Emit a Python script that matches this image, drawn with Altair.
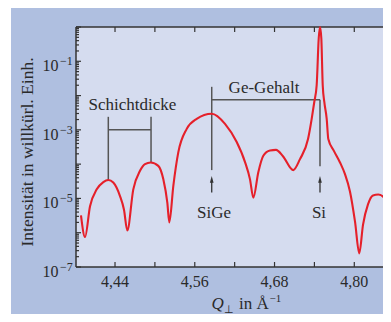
import altair as alt
import pandas as pd

# ---------------- data ----------------
q_vals = [4.3888, 4.3949, 4.4024, 4.4125, 4.4224, 4.4299, 4.4374, 4.4475, 4.4535, 4.4585,
          4.4675, 4.4776, 4.4851, 4.4937, 4.5051, 4.5127, 4.5187, 4.5217, 4.5277, 4.5352,
          4.5479, 4.5629, 4.5855, 4.6055, 4.6231, 4.6356, 4.6431, 4.6481, 4.6556, 4.6631,
          4.6732, 4.6822, 4.6927, 4.7082, 4.7183, 4.7304, 4.7359, 4.7398, 4.7434, 4.7465,
          4.7484, 4.7504, 4.7525, 4.7549, 4.7585, 4.7609, 4.7695, 4.7785, 4.7860, 4.7935,
          4.8011, 4.8075, 4.8131, 4.8206, 4.8281, 4.8361, 4.8447, 4.8552]
intensity = [3.2e-6, 7.5e-7, 5.9e-6, 1.84e-5, 3.0e-5, 3.45e-5, 2.9e-5, 1.17e-5, 4.7e-6, 1.17e-6,
             1.84e-5, 6.4e-5, 1.0e-4, 1.12e-4, 8.9e-5, 3.6e-5, 7.5e-6, 2.0e-6, 2.3e-5, 2.2e-4,
             1.07e-3, 2.1e-3, 2.96e-3, 1.5e-3, 4.4e-4, 1.15e-4, 3.6e-5, 1.05e-5, 5.8e-5, 1.75e-4,
             2.5e-4, 2.6e-4, 1.7e-4, 6.7e-5, 1.4e-4, 5.4e-4, 2.1e-3, 6.5e-3, 2.0e-2, 0.47,
             1.0, 0.47, 2.0e-2, 6.5e-3, 2.1e-3, 5.4e-4, 2.4e-4, 1.12e-4, 5.1e-5, 1.6e-5,
             2.1e-6, 2.5e-7, 1.7e-6, 6.7e-6, 1.22e-5, 1.3e-5, 1.07e-5, 4.8e-6]

x_tick_values = [4.44, 4.50, 4.56, 4.62, 4.68, 4.74, 4.80]
x_label_values = [4.44, 4.56, 4.68, 4.80]
x_label_texts = ["4,44", "4,56", "4,68", "4,80"]
decades = [1e-7, 1e-6, 1e-5, 1e-4, 1e-3, 1e-2, 1e-1, 1e0]
minor_ticks = [m * d for d in decades[:-1] for m in range(2, 10)]
y_label_values = [1e-1, 1e-3, 1e-5, 1e-7]
y_label_exps = ["\u22121", "\u22123", "\u22125", "\u22127"]

# annotations (data coordinates)
vlines = pd.DataFrame({
    "q":  [4.4299, 4.4942, 4.5855, 4.7484],
    "I":  [2.4e-3, 2.4e-3, 1.8e-2, 7.6e-3],
    "I2": [3.45e-5, 1.12e-4, 6.7e-5, 8.7e-5],
})
hlines = pd.DataFrame({"q": [4.4299, 4.5855], "q2": [4.4942, 4.7484], "I": [1.0e-3, 7.6e-3]})
arrows = pd.DataFrame({"q": [4.5855, 4.7484], "I": [1.5e-5, 1.5e-5], "I2": [3.3e-5, 3.3e-5],
                       "tip": [3.6e-5, 3.6e-5]})
notes = pd.DataFrame({
    "q": [4.4663, 4.6642, 4.5891, 4.7469],
    "I": [3.7e-3, 1.15e-2, 2.76e-6, 2.76e-6],
    "t": ["Schichtdicke", "Ge-Gehalt", "SiGe", "Si"],
})

# ---------------- chart ----------------
W, H = 307, 240
FONT = "Liberation Serif"
TXT = "#2a2a2a"
GRAY = "#555555"
FRAME = "#333333"

xs = alt.Scale(domain=[4.3813, 4.8432], nice=False, zero=False)
ys = alt.Scale(type="log", domain=[1e-7, 1], nice=False)


def X(f="q"):
    return alt.X(f"{f}:Q", scale=xs, axis=None)


def Y(f="I"):
    return alt.Y(f"{f}:Q", scale=ys, axis=None)


one = alt.Data(values=[{"a": 1}])

panel = alt.Chart(one).mark_rect(color="#afbfe0").encode(
    x=alt.value(-65), x2=alt.value(W + 20), y=alt.value(-19), y2=alt.value(H + 70))
plotbg = alt.Chart(one).mark_rect(color="#d5dcef").encode(
    x=alt.value(0), x2=alt.value(W + 20), y=alt.value(0), y2=alt.value(H))


def prule(x, x2, y, y2):
    return alt.Chart(one).mark_rule(color=FRAME, strokeWidth=1.5).encode(
        x=alt.value(x), x2=alt.value(x2), y=alt.value(y), y2=alt.value(y2))


frame = [prule(0, W + 20, 0, 0), prule(0, 0, 0, H), prule(0, W + 20, H, H)]

dec_df = pd.DataFrame({"I": decades})
min_df = pd.DataFrame({"I": minor_ticks})
xt_df = pd.DataFrame({"q": x_tick_values})

tick_style = dict(color=FRAME, strokeWidth=1.2)
left_major = alt.Chart(dec_df).mark_rule(**tick_style).encode(y=Y(), x=alt.value(0), x2=alt.value(5))
left_minor = alt.Chart(min_df).mark_rule(**tick_style).encode(y=Y(), x=alt.value(0), x2=alt.value(3))
bottom_ticks = alt.Chart(xt_df).mark_rule(**tick_style).encode(x=X(), y=alt.value(H - 5), y2=alt.value(H))
top_ticks = alt.Chart(xt_df).mark_rule(**tick_style).encode(x=X(), y=alt.value(0), y2=alt.value(5))

curve_df = pd.DataFrame({"q": q_vals, "I": intensity})
curve = alt.Chart(curve_df).mark_line(color="#e5202a", strokeWidth=2.1, interpolate="monotone").encode(
    x=X(), y=Y())

vrules = alt.Chart(vlines).mark_rule(color=GRAY, strokeWidth=1.5).encode(
    x=X(), y=Y(), y2=alt.Y2("I2:Q"))
hrules = alt.Chart(hlines).mark_rule(color=GRAY, strokeWidth=1.5).encode(
    x=X(), x2=alt.X2("q2:Q"), y=Y())
arrow_shafts = alt.Chart(arrows).mark_rule(color="#333333", strokeWidth=1.3).encode(
    x=X(), y=Y(), y2=alt.Y2("I2:Q"))
arrow_heads = alt.Chart(arrows).mark_point(
    shape="M0,-1L0.55,1L-0.55,1Z", filled=True, color="#333333", size=45, opacity=1).encode(
    x=X(), y=Y("tip"))

note_text = alt.Chart(notes).mark_text(font=FONT, fontSize=17, color=TXT, align="center",
                                       baseline="alphabetic").encode(x=X(), y=Y(), text="t:N")

# x tick labels
xl_df = pd.DataFrame({"q": x_label_values, "t": x_label_texts})
x_labels = alt.Chart(xl_df).mark_text(font=FONT, fontSize=16, color=TXT, align="center",
                                      baseline="alphabetic").encode(
    x=X(), y=alt.value(H + 20), text="t:N")

# y tick labels: "10" + superscript exponent
yl_df = pd.DataFrame({"I": y_label_values, "e": y_label_exps, "b": ["10"] * 4})
y_base = alt.Chart(yl_df).mark_text(font=FONT, fontSize=16, color=TXT, align="right",
                                    baseline="middle", dy=5).encode(
    x=alt.value(-17.5), y=Y(), text="b:N")
y_exp = alt.Chart(yl_df).mark_text(font=FONT, fontSize=12, color=TXT, align="left",
                                   baseline="middle", dy=0).encode(
    x=alt.value(-16), y=Y(), text="e:N")

# axis titles
y_title = alt.Chart(one).mark_text(font=FONT, fontSize=17.5, color=TXT, align="center",
                                   baseline="alphabetic", angle=270,
                                   text="Intensität in willkürl. Einh.").encode(
    x=alt.value(-43), y=alt.value(125))
xt_q = alt.Chart(one).mark_text(font=FONT, fontSize=17, fontStyle="italic", color=TXT,
                                align="left", baseline="alphabetic", text="Q").encode(
    x=alt.value(135.5), y=alt.value(282))
xt_perp = alt.Chart(one).mark_text(font=FONT, fontSize=11, color=TXT, align="left",
                                   baseline="alphabetic", text="\u22a5").encode(
    x=alt.value(147.5), y=alt.value(285.5))
xt_in = alt.Chart(one).mark_text(font=FONT, fontSize=17, color=TXT, align="left",
                                 baseline="alphabetic", text="in Å").encode(
    x=alt.value(163), y=alt.value(282))
xt_exp = alt.Chart(one).mark_text(font=FONT, fontSize=11, color=TXT, align="left",
                                  baseline="alphabetic", text="\u22121").encode(
    x=alt.value(193.5), y=alt.value(275))

chart = alt.layer(
    panel, plotbg, *frame, left_major, left_minor, bottom_ticks, top_ticks,
    vrules, hrules, arrow_shafts, arrow_heads, curve, note_text,
    x_labels, y_base, y_exp, y_title, xt_q, xt_perp, xt_in, xt_exp,
).properties(
    width=W, height=H,
    padding={"left": 68, "top": 19, "right": 0, "bottom": 47},
    autosize=alt.AutoSizeParams(type="none"),
    background="white",
).configure_view(stroke=None)

chart.save("out.html", embed_options={"renderer": "svg", "actions": False})
